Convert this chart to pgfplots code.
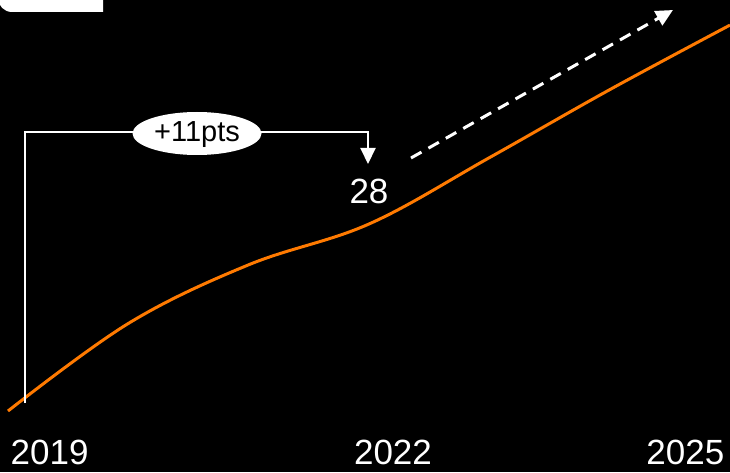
\documentclass[border=0pt]{standalone}
\usepackage{pgfplots}
\pgfplotsset{compat=1.18}
\usepackage{fontspec}
\setmainfont{Liberation Sans}
\usetikzlibrary{arrows.meta,shapes.geometric}
\definecolor{lineorange}{RGB}{255,122,0}

\begin{document}
\begin{tikzpicture}[x=1pt,y=1pt]
  % dark canvas
  \fill[black] (0,0) rectangle (730,472);

  \begin{axis}[
    at={(0,0)}, anchor=south west,
    scale only axis, width=730pt, height=472pt,
    xmin=2018.9335, xmax=2025,
    ymin=13.412, ymax=41.176,
    hide axis,
  ]
    \addplot[lineorange, line width=3pt, smooth, tension=0.6] coordinates {
      (2019,17.0) (2020,22.15) (2021,25.6) (2022,28.0)
      (2023,31.9) (2024,35.9) (2025,39.7)
    };
    % value label for 2022
    \node[white, anchor=base, inner sep=0, font=\fontsize{35pt}{40pt}\selectfont]
      at (axis cs:2022,28) [yshift=20pt] {28};
  \end{axis}

  % tab at the top left
  \fill[white] (103,500) -- (103,460) [rounded corners=14pt] -- (-2,460) -- (-2,500) -- cycle;

  % bracket 2019 -> 2022
  \draw[white, line width=2pt, -{Triangle[width=15pt,length=16pt]}]
    (25,69) -- (25,340) -- (368,340) -- (368,308);
  \node[fill=white, ellipse, minimum width=129pt, minimum height=43pt, inner sep=0]
    at (197,338.5) {};
  \node[black, anchor=base, inner sep=0, font=\fontsize{29pt}{33pt}\selectfont]
    at (197,330.3) {+11pts};

  % trend arrow
  \draw[white, line width=3pt, dash pattern=on 12pt off 8pt,
        -{Triangle[width=16pt,length=17pt]}]
    (411,314) -- (673,462);

  % year labels
  \begin{scope}[every node/.style={white, inner sep=0, font=\fontsize{35pt}{40pt}\selectfont}]
    \node[anchor=base west] at (10.5,8) {2019};
    \node[anchor=base] at (393,8) {2022};
    \node[anchor=base east] at (724.5,8) {2025};
  \end{scope}

  \pgfresetboundingbox
  \useasboundingbox (0,0) rectangle (730,472);
\end{tikzpicture}
\end{document}
